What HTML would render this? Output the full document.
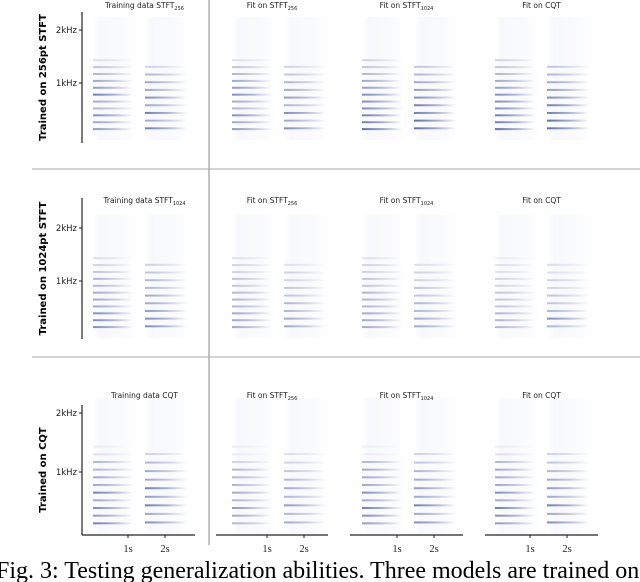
<!DOCTYPE html>
<html><head><meta charset="utf-8">
<style>
body{margin:0;background:#fff;overflow:hidden;}
svg{display:block;font-family:"DejaVu Sans","Liberation Sans",sans-serif;}
.cap{font-family:"Liberation Serif",serif;font-size:24px;}
</style></head>
<body>
<svg id="fig" width="640" height="582" viewBox="0 0 640 582">
<defs>
<linearGradient id="fade" x1="0" x2="1" y1="0" y2="0">
<stop offset="0" stop-color="#2c3f8c" stop-opacity="0.75"/>
<stop offset="0.5" stop-color="#2c3f8c" stop-opacity="0.45"/>
<stop offset="1" stop-color="#2c3f8c" stop-opacity="0"/>
</linearGradient>
<linearGradient id="haze" x1="0" x2="1" y1="0" y2="0">
<stop offset="0" stop-color="#6a7bb8" stop-opacity="0.0"/>
<stop offset="0.15" stop-color="#6a7bb8" stop-opacity="0.05"/>
<stop offset="0.7" stop-color="#6a7bb8" stop-opacity="0.03"/>
<stop offset="1" stop-color="#6a7bb8" stop-opacity="0"/>
</linearGradient>
</defs>
<line x1="209" y1="0" x2="209" y2="545" stroke="#888" stroke-width="1"/>
<line x1="32" y1="169" x2="640" y2="169" stroke="#aaa" stroke-width="1"/>
<line x1="32" y1="357" x2="640" y2="357" stroke="#aaa" stroke-width="1"/>
<g id="panels"></g>
<text class="cap" x="-4" y="578">Fig. 3: Testing generalization abilities. Three models are trained on</text>
</svg>
<script>
const rowLabels = ["Trained on 256pt STFT", "Trained on 1024pt STFT", "Trained on CQT"];
const colTitles = [["Training data STFT","256"],["Fit on STFT","256"],["Fit on STFT","1024"],["Fit on CQT",""]];
const row2Titles = [["Training data STFT","1024"],["Fit on STFT","256"],["Fit on STFT","1024"],["Fit on CQT",""]];
const row3Titles = [["Training data CQT",""],["Fit on STFT","256"],["Fit on STFT","1024"],["Fit on CQT",""]];
const freqTicks = [1000, 2000];
const freqTickLabels = ["1kHz", "2kHz"];
const timeTicks = [1, 2];
const timeTickLabels = ["1s", "2s"];
const note1Harmonics = [130, 260, 390, 520, 650, 780, 910, 1040, 1170, 1300, 1430];
const note2Harmonics = [145, 290, 435, 580, 725, 870, 1015, 1160, 1305];
const note1Intensity = [
 [0.7,0.6,0.8,0.5,0.6,0.9,0.7,0.6,0.5,0.4,0.2],[0.7,0.6,0.8,0.5,0.6,0.8,0.7,0.6,0.5,0.4,0.2],[1,0.9,0.9,0.8,0.8,0.8,0.7,0.6,0.5,0.4,0.3],[1,0.9,0.9,0.8,0.8,0.8,0.7,0.6,0.5,0.4,0.3],
 [0.8,0.8,0.8,0.6,0.6,0.6,0.5,0.5,0.4,0.3,0.2],[0.6,0.6,0.6,0.5,0.5,0.5,0.4,0.4,0.3,0.3,0.2],[0.6,0.6,0.6,0.5,0.5,0.5,0.4,0.4,0.3,0.3,0.2],[0.5,0.5,0.5,0.4,0.4,0.4,0.3,0.3,0.2,0.2,0.1],
 [0.9,0.7,0.8,0.6,0.9,0.6,0.6,0.5,0.5,0.2,0.1],[0.5,0.6,0.7,0.5,0.6,0.5,0.5,0.5,0.3,0.1,0.1],[0.7,0.8,0.9,0.6,0.8,0.6,0.6,0.6,0.5,0.1,0.1],[0.7,0.8,0.9,0.6,0.8,0.6,0.6,0.6,0.5,0.2,0.1]
];
const note2Intensity = [
 [0.9,0.6,0.9,0.6,0.8,0.6,0.6,0.5,0.3],[0.8,0.6,0.8,0.5,0.7,0.6,0.5,0.4,0.3],[1,1,0.9,0.9,0.8,0.7,0.6,0.5,0.4],[1,1,0.9,0.9,0.8,0.7,0.6,0.5,0.4],
 [0.8,0.8,0.7,0.6,0.6,0.5,0.5,0.4,0.3],[0.6,0.6,0.5,0.5,0.4,0.4,0.3,0.3,0.2],[0.6,0.6,0.5,0.5,0.4,0.4,0.3,0.3,0.2],[0.5,0.8,0.5,0.4,0.4,0.3,0.3,0.2,0.2],
 [0.8,0.6,0.9,0.7,0.9,0.6,0.6,0.5,0.3],[0.6,0.5,0.7,0.5,0.6,0.5,0.4,0.3,0.2],[0.8,0.6,0.9,0.6,0.7,0.6,0.5,0.4,0.3],[0.8,0.6,0.9,0.6,0.7,0.6,0.5,0.4,0.3]
];
const NS = "http://www.w3.org/2000/svg";
const root = document.getElementById("panels");
function mk(tag, attrs, parent){const e=document.createElementNS(NS,tag);for(const k in attrs)e.setAttribute(k,attrs[k]);(parent||root).appendChild(e);return e;}
const rows = [{y0:136, kpx:53, top:12, bot:143, ty:8},{y0:334, kpx:53, top:198, bot:339, ty:203},{y0:531, kpx:59, top:405, bot:535, ty:398}];
const cols = [{x0:82, x1:195},{x0:216,x1:328},{x0:350,x1:463},{x0:485,x1:598}];
const colStart=[93,232,362,495];
function yScale(r,f){return rows[r].y0 - f/1000*rows[r].kpx;}
function xScale(c,t){return colStart[c] + 35 + (t-1)*37;}
for(let r=0;r<3;r++){
  const lab = mk("text",{x:0,y:0,"font-size":"10","font-weight":"bold",transform:`translate(46,${(rows[r].top+rows[r].bot)/2}) rotate(-90)`,"text-anchor":"middle"});
  lab.textContent=rowLabels[r];
  
  
  const titles = r==0?colTitles:(r==1?row2Titles:row3Titles);
  for(let c=0;c<4;c++){
    const g=mk("g",{});
    
    
    const cx=(cols[c].x0+cols[c].x1)/2+ (c==0?6:0);
    const t=mk("text",{x:cx,y:rows[r].ty,"font-size":"7.5","text-anchor":"middle",fill:"#222"},g);
    t.textContent=titles[c][0];
    if(titles[c][1]){const s=mk("tspan",{"font-size":"5","dy":"2"},t);s.textContent=titles[c][1];}
    
    
    const xs=colStart[c];
    const top=yScale(r,2250), bot=rows[r].y0+4;
    mk("rect",{x:xs,y:top,width:45,height:bot-top,fill:"url(#haze)"},g);
    mk("rect",{x:xs+52,y:top,width:45,height:bot-top,fill:"url(#haze)"},g);
    const i=r*4+c;
    note1Harmonics.forEach((f,k)=>{
      const h=mk("rect",{x:xs,y:yScale(r,f)-1,width:40,height:2,fill:"url(#fade)",opacity:note1Intensity[i][k]},g);
      
      
    });
    note2Harmonics.forEach((f,k)=>{
      const h=mk("rect",{x:xs+52,y:yScale(r,f)-1,width:42,height:2,fill:"url(#fade)",opacity:note2Intensity[i][k]},g);
      
      
    });
    if(c==0){
      mk("line",{x1:cols[0].x0,x2:cols[0].x0,y1:rows[r].top,y2:rows[r].bot,stroke:"#222","stroke-width":1.2},g);
      freqTicks.forEach((f,k)=>{
        const y=yScale(r,f);
        mk("line",{x1:cols[0].x0-3,x2:cols[0].x0,y1:y,y2:y,stroke:"#222"},g);
        const tl=mk("text",{x:cols[0].x0-5,y:y+3,"font-size":"8.5","text-anchor":"end",fill:"#222"},g);
        tl.textContent=freqTickLabels[k];
        
        
      });
    }
    if(r==2){
      mk("line",{x1:cols[c].x0,x2:cols[c].x1,y1:rows[r].bot,y2:rows[r].bot,stroke:"#222","stroke-width":1.2},g);
      timeTicks.forEach((tv,k)=>{
        const x=xScale(c,tv);
        mk("line",{x1:x,x2:x,y1:rows[r].bot,y2:rows[r].bot+3,stroke:"#222"},g);
        const tl=mk("text",{x:x,y:rows[r].bot+17,"font-size":"10.5","text-anchor":"middle",fill:"#222","font-family":"Liberation Serif,serif"},g);
        tl.textContent=timeTickLabels[k];
        
        
      });
    }
  }
}
</script>
</body></html>
